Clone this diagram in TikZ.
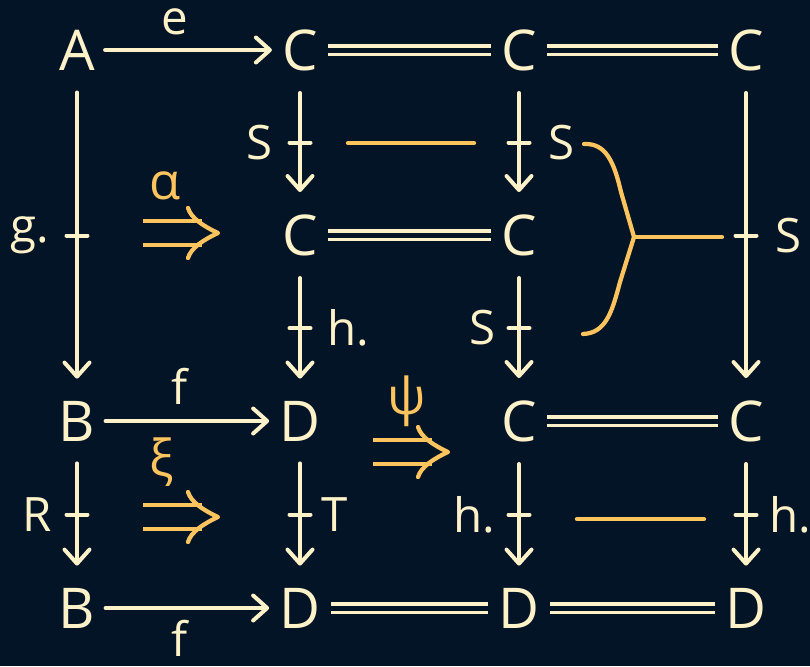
\documentclass[tikz,border=0pt]{standalone}
\usepackage{fontspec}
\setmainfont{Open Sans}
\usetikzlibrary{arrows.meta, positioning, decorations.markings}
\definecolor{bgnavy}{RGB}{2, 20, 38}
\definecolor{chalk}{RGB}{255, 242, 201}
\definecolor{cellorange}{RGB}{255, 196, 94}
\tikzset{
    obj/.style={
        text=chalk,
        inner xsep=0.2cm,
        inner ysep=0.44cm,
        font=\fontsize{32}{38}\selectfont
    },
    lab/.style={
        text=chalk,
        inner sep=0pt,
        font=\fontsize{27}{32}\selectfont
    },
    hom/.style={
        draw=chalk,
        line width=0.08cm,
        line cap=round,
        -{Straight Barb[length=0.28cm, width=0.5cm, round]}
    },
    prohom/.style={
        hom,
        postaction={decorate},
        decoration={markings, mark=at position 0.5 with {\draw[-, draw=chalk, line width=0.08cm, line cap=round] (0,-0.21cm) -- (0,0.21cm);}}
    },
    eqline/.style={
        draw=chalk,
        line width=0.07cm,
        double=bgnavy,
        double distance=0.1cm
    },
    cellline/.style={
        draw=cellorange,
        line width=0.085cm,
        line cap=round,
        line join=round
    },
    cell/.style={
        draw=cellorange,
        line width=0.085cm,
        line cap=butt,
        double=bgnavy,
        double distance=0.4cm,
        shorten >=0.32cm,
        postaction={draw=none, shorten >=0pt, decorate},
        decoration={markings, mark=at position 1 with {
            \draw[cellline] (-0.6cm,0.5cm) .. controls (-0.54cm,0.3cm) and (-0.3cm,0.14cm) .. (0,0)
                .. controls (-0.3cm,-0.14cm) and (-0.54cm,-0.3cm) .. (-0.6cm,-0.5cm);}}
    },
    celllab/.style={
        text=cellorange,
        inner sep=0pt,
        font=\fontsize{29}{34}\selectfont
    }
}

\begin{document}
\begin{tikzpicture}[x=0.02cm, y=-0.02cm]
    \useasboundingbox (0,0) rectangle (810,666);
    \fill[bgnavy] (0,0) rectangle (810,666);

    % objects
    \node[obj] (A)  at (77,50)   {A};
    \node[obj] (C1) at (300,50)  {C};
    \node[obj] (C2) at (519,50)  {C};
    \node[obj] (C3) at (746,50)  {C};
    \node[obj] (C4) at (300,235) {C};
    \node[obj] (C5) at (519,235) {C};
    \node[obj] (B1) at (77,421)  {B};
    \node[obj] (D1) at (300,421) {D};
    \node[obj] (C6) at (519,421) {C};
    \node[obj] (C7) at (746,421) {C};
    \node[obj] (B2) at (77,608)  {B};
    \node[obj] (D2) at (300,608) {D};
    \node[obj] (D3) at (519,608) {D};
    \node[obj] (D4) at (746,608) {D};

    % horizontal arrows
    \draw[hom] (A) -- node[lab, above=0.26cm, pos=0.42] {e} (C1);
    \draw[hom] (B1) -- node[lab, above=0.3cm, pos=0.45] {f} (D1);
    \draw[hom] (B2) -- node[lab, below=0.2cm, pos=0.45] {f} (D2);
    \draw[eqline] (C1) -- (C2);
    \draw[eqline] (C2) -- (C3);
    \draw[eqline] (C4) -- (C5);
    \draw[eqline] (C6) -- (C7);
    \draw[eqline] (D2) -- (D3);
    \draw[eqline] (D3) -- (D4);

    % vertical proarrows
    \draw[prohom] (A) -- node[lab, left=0.52cm] {g.} (B1);
    \draw[prohom] (C1) -- node[lab, left=0.5cm] {S} (C4);
    \draw[prohom] (C2) -- node[lab, right=0.54cm] {S} (C5);
    \draw[prohom] (C3) -- node[lab, right=0.54cm] {S} (C7);
    \draw[prohom] (C4) -- node[lab, right=0.5cm] {h.} (D1);
    \draw[prohom] (C5) -- node[lab, left=0.42cm] {S} (C6);
    \draw[prohom] (B1) -- node[lab, left=0.46cm] {R} (B2);
    \draw[prohom] (D1) -- node[lab, right=0.38cm] {T} (D2);
    \draw[prohom] (C6) -- node[lab, left=0.44cm] {h.} (D3);
    \draw[prohom] (C7) -- node[lab, right=0.42cm] {h.} (D4);

    % 2-cells
    \coordinate (alpha-s) at (143,233);
    \coordinate (alpha-e) at (218,233);
    \coordinate (xi-s) at (143,517);
    \coordinate (xi-e) at (218,517);
    \coordinate (psi-s) at (373,452);
    \coordinate (psi-e) at (448,452);
    \draw[cell] (alpha-s) -- node[celllab, above=0.62cm, pos=0.3] {α} (alpha-e);
    \draw[cell] (xi-s) -- node[celllab, above=0.56cm, pos=0.25] {ξ} (xi-e);
    \draw[cell] (psi-s) -- node[celllab, above=0.46cm, pos=0.45] {ψ} (psi-e);

    % identity cells
    \coordinate (id1-s) at (348,143);
    \coordinate (id1-e) at (474,143);
    \coordinate (id2-s) at (577,519);
    \coordinate (id2-e) at (704,519);
    \draw[cellline] (id1-s) -- (id1-e);
    \draw[cellline] (id2-s) -- (id2-e);

    % brace
    \coordinate (br-top) at (584,144);
    \coordinate (br-bot) at (583,334);
    \coordinate (br-tip) at (634,237);
    \coordinate (br-end) at (722,237);
    \draw[cellline] (br-top) .. controls (606,143) and (614,162) .. (621,192)
        -- (br-tip) -- (620,282) .. controls (612,312) and (606,333) .. (br-bot);
    \draw[cellline] (br-tip) -- (br-end);
\end{tikzpicture}
\end{document}
